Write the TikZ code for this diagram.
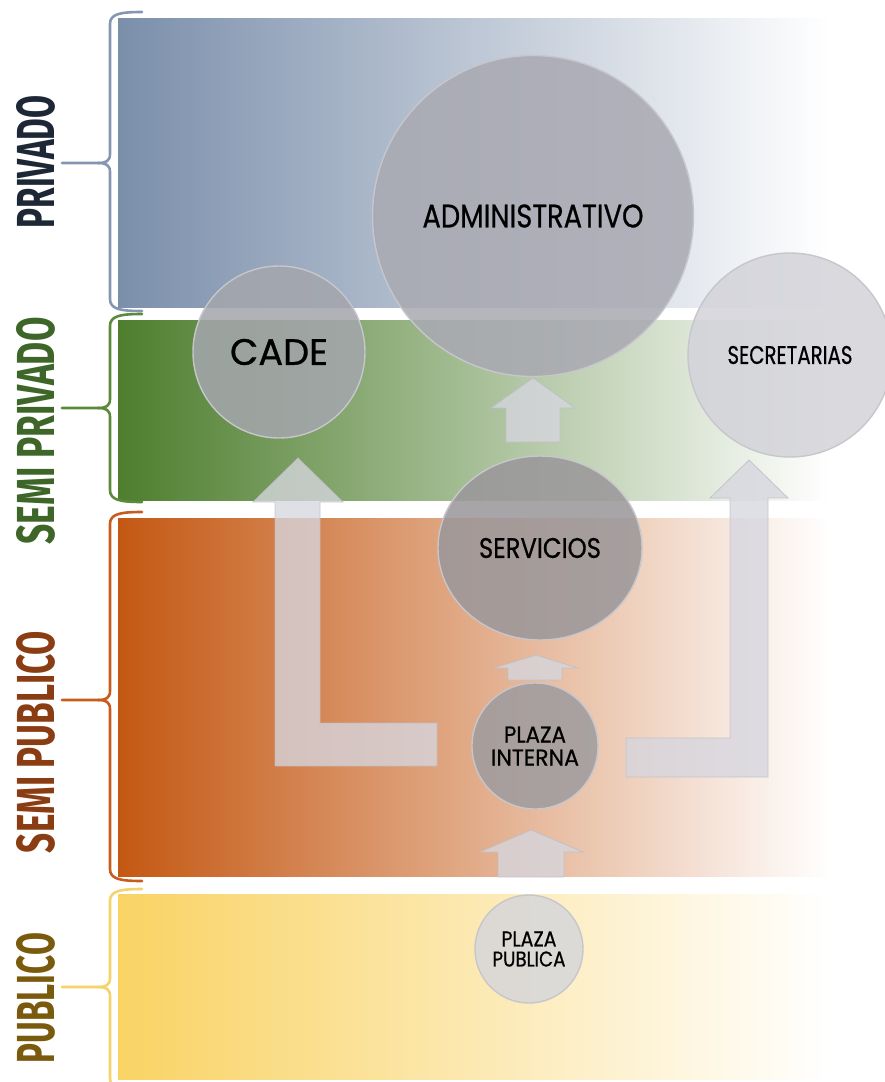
\documentclass[tikz,border=0pt]{standalone}
\usepackage{fontspec}
\setmainfont{Poppins}
\newfontfamily\circfont[FakeBold=0.7]{Poppins}
\newfontfamily\labfont{Fira Sans}
\usetikzlibrary{shapes.geometric}
\definecolor{privC}{HTML}{7B8FAB}
\definecolor{semprivC}{HTML}{4E7E2E}
\definecolor{sempubC}{HTML}{C45813}
\definecolor{pubC}{HTML}{F9D364}
\definecolor{privT}{HTML}{1E2735}
\definecolor{semprivT}{HTML}{3E6629}
\definecolor{sempubT}{HTML}{8A3D12}
\definecolor{pubT}{HTML}{7A5B0E}
\definecolor{privB}{HTML}{8497B2}
\definecolor{semprivB}{HTML}{5B8A3B}
\definecolor{sempubB}{HTML}{C75C1C}
\definecolor{pubB}{HTML}{F6D26A}
\definecolor{arrowC}{HTML}{D6D6DF}
\definecolor{arrowE}{HTML}{BDBDC6}
\definecolor{rimC}{HTML}{C6C6CC}
\definecolor{adminF}{HTML}{A9A9B2}
\definecolor{cadeF}{HTML}{A4A6AC}
\definecolor{secrF}{HTML}{D3D3D9}
\definecolor{servF}{HTML}{9A979A}
\definecolor{pintF}{HTML}{9E9C9F}
\definecolor{ppubF}{HTML}{D7D7DA}
\newcommand\fitbox[3]{\resizebox{#1pt}{#2pt}{#3}}
\newcommand\zonebrace[4]{%
  \draw[brc,#1] (142,#2) .. controls (120,#2) and (110,#2+2) .. (110,#2+12)
     -- (110,#4-9) .. controls (110,#4-2) and (106,#4) .. (98,#4) -- (62,#4);
  \draw[brc,#1] (98,#4) .. controls (106,#4) and (110,#4+2) .. (110,#4+9)
     -- (110,#3-12) .. controls (110,#3-2) and (120,#3) .. (142,#3);
}
\tikzset{
  brc/.style={line width=2.6pt, line cap=round, line join=round},
  lbl/.style={rotate=90, inner sep=0pt, font=\labfont\bfseries},
  zone/.style={circle, inner sep=0pt, draw=rimC, line width=1.4pt,
    fill opacity=0.86, text opacity=1, font=\circfont\fontsize{10}{23}\selectfont, align=center},
  blockarrow/.style={fill=arrowC, draw=arrowE, line width=0.8pt,
    fill opacity=0.78, draw opacity=0.8, line join=miter}
}
\begin{document}
\begin{tikzpicture}[x=1pt,y=-1pt]
\useasboundingbox (0,0) rectangle (885,1082);
\clip (0,0) rectangle (885,1082);
\fill[white] (0,0) rectangle (885,1082);
% bands
\shade[left color=privC, right color=white] (118,18) rectangle (830,307);
\shade[left color=semprivC, right color=white] (118,320) rectangle (830,500);
\shade[left color=sempubC, right color=white] (118,518) rectangle (830,876);
\shade[left color=pubC, right color=white] (118,894) rectangle (830,1079);
% braces
\zonebrace{privB}{12}{311}{163}
\zonebrace{semprivB}{314}{502}{408}
\zonebrace{sempubB}{512}{881}{700}
\zonebrace{pubB}{889}{1090}{987}
% labels
\node[lbl, text=privT] (lpriv) at (36,162) {\fitbox{133}{38}{PRIVADO}};
\node[lbl, text=semprivT] (lsempriv) at (36,431) {\fitbox{227}{38}{SEMI PRIVADO}};
\node[lbl, text=sempubT] (lsempub) at (36,742) {\fitbox{222}{38}{SEMI PUBLICO}};
\node[lbl, text=pubT] (lpub) at (36,998) {\fitbox{130}{38}{PUBLICO}};
% block arrows
\draw[blockarrow] (506,442) -- (506,408) -- (491,408) -- (533,378) -- (575,408) -- (560,408) -- (560,442) -- cycle;
\draw[blockarrow] (508,680) -- (508,668) -- (494,668) -- (536,655) -- (578,668) -- (562,668) -- (562,680) -- cycle;
\draw[blockarrow] (498,877) -- (498,852) -- (480,852) -- (531,830) -- (583,852) -- (564,852) -- (564,877) -- cycle;
\draw[blockarrow] (437,723) -- (320,723) -- (320,502) -- (343,502) -- (298,458) -- (253,502) -- (275,502) -- (275,766) -- (437,766) -- cycle;
\draw[blockarrow] (626,738) -- (730,738) -- (730,498) -- (710,498) -- (749,460) -- (788,498) -- (768,498) -- (768,777) -- (626,777) -- cycle;
% circles
\node[zone, fill=adminF, minimum size=321pt] (admin) at (533,216) {\fitbox{221}{23}{ADMINISTRATIVO}};
\node[zone, fill=cadeF, minimum size=172pt] (cade) at (279,352) {\fitbox{98}{26}{CADE}};
\node[zone, fill=secrF, minimum size=204pt] (secr) at (790,355) {\fitbox{125}{18}{SECRETARIAS}};
\node[zone, ellipse, fill=servF, minimum width=204pt, minimum height=184pt] (serv) at (540,548) {\fitbox{122}{20}{SERVICIOS}};
\node[zone, fill=pintF, minimum size=126pt] (pint) at (535,746) {\fitbox{62}{16}{PLAZA}\\\fitbox{88}{16}{INTERNA}};
\node[zone, fill=ppubF, minimum size=108pt] (ppub) at (529,949) {\fitbox{55}{15}{PLAZA}\\[-3pt]\fitbox{73}{15}{PUBLICA}};
\end{tikzpicture}
\end{document}
